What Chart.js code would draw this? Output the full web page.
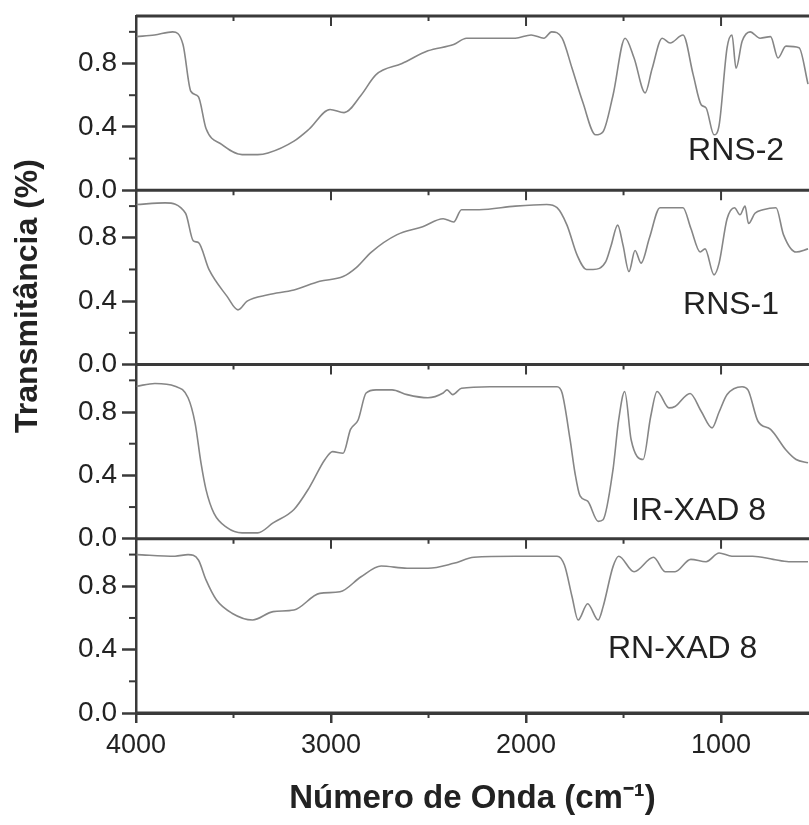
<!DOCTYPE html>
<html>
<head>
<meta charset="utf-8">
<script src="https://cdn.jsdelivr.net/npm/chart.js@4.4.1/dist/chart.umd.min.js"></script>
<style>
  html, body { margin: 0; padding: 0; background: #fff; }
  canvas { display: block; }
</style>
</head>
<body>
<canvas id="irChart" width="809" height="825"></canvas>
<script>
// Spectra: wavenumber (cm-1) and transmittance per sample
const rns2Wn = [3997, 3905, 3812, 3759, 3719, 3680, 3641, 3561, 3456, 3376, 3323, 3190, 3113, 3005, 2933, 2846, 2769, 2636, 2503, 2371,
  2305, 2055, 1974, 1908, 1869, 1815, 1764, 1710, 1643, 1605, 1554, 1492, 1446, 1389, 1354, 1302, 1261, 1195, 1143, 1102,
  1077, 1036, 1010, 969, 944, 923, 892, 851, 800, 746, 708, 667, 600, 554];
const rns2T = [0.97, 0.98, 1.0, 0.92, 0.625, 0.59, 0.39, 0.29, 0.225, 0.225, 0.235, 0.31, 0.385, 0.51, 0.49, 0.60, 0.73, 0.80, 0.88, 0.92,
  0.96, 0.96, 0.98, 0.96, 1.0, 0.96, 0.77, 0.56, 0.35, 0.37, 0.60, 0.96, 0.835, 0.615, 0.765, 0.96, 0.93, 0.98, 0.73, 0.54,
  0.52, 0.35, 0.41, 0.90, 0.98, 0.77, 0.94, 1.0, 0.96, 0.97, 0.835, 0.91, 0.90, 0.67];

const rns1Wn = [3997, 3851, 3746, 3706, 3680, 3626, 3533, 3477, 3430, 3323, 3190, 3058, 2938, 2872, 2793, 2661, 2530, 2425, 2371, 2331,
  2240, 2055, 1894, 1841, 1790, 1738, 1690, 1656, 1591, 1564, 1530, 1503, 1472, 1441, 1410, 1367, 1313, 1195, 1155, 1107,
  1082, 1036, 1010, 969, 931, 903, 877, 859, 826, 785, 718, 680, 615, 554];
const rns1T = [1.01, 1.02, 0.955, 0.78, 0.77, 0.60, 0.43, 0.345, 0.40, 0.44, 0.47, 0.525, 0.555, 0.61, 0.71, 0.82, 0.87, 0.92, 0.90, 0.977,
  0.977, 1.0, 1.01, 0.99, 0.88, 0.69, 0.60, 0.60, 0.65, 0.75, 0.88, 0.755, 0.587, 0.72, 0.64, 0.80, 0.99, 0.99, 0.86, 0.71,
  0.73, 0.566, 0.64, 0.92, 0.99, 0.945, 1.0, 0.89, 0.955, 0.977, 0.99, 0.82, 0.71, 0.73];

const irxadWn = [3997, 3903, 3800, 3733, 3697, 3667, 3641, 3600, 3533, 3456, 3376, 3297, 3190, 3113, 3031, 2992, 2938, 2900, 2861, 2820,
  2769, 2687, 2610, 2503, 2425, 2405, 2376, 2331, 2185, 1841, 1815, 1774, 1749, 1723, 1684, 1630, 1605, 1554, 1525, 1494,
  1461, 1400, 1361, 1328, 1267, 1236, 1159, 1102, 1046, 1010, 969, 892, 862, 810, 746, 667, 615, 554];
const irxadT = [0.963, 0.98, 0.963, 0.89, 0.73, 0.48, 0.31, 0.16, 0.07, 0.037, 0.037, 0.10, 0.185, 0.32, 0.50, 0.55, 0.54, 0.69, 0.75, 0.92,
  0.94, 0.94, 0.91, 0.89, 0.92, 0.94, 0.91, 0.95, 0.96, 0.96, 0.92, 0.625, 0.415, 0.27, 0.237, 0.11, 0.12, 0.437, 0.75, 0.93,
  0.625, 0.50, 0.77, 0.93, 0.826, 0.835, 0.917, 0.805, 0.70, 0.80, 0.91, 0.96, 0.94, 0.74, 0.69, 0.56, 0.50, 0.48];

const rnxadWn = [3997, 3800, 3733, 3680, 3641, 3587, 3508, 3402, 3297, 3190, 3058, 2954, 2846, 2743, 2610, 2503, 2371, 2267, 2055, 1841,
  1803, 1764, 1733, 1684, 1630, 1605, 1554, 1525, 1446, 1346, 1287, 1236, 1155, 1077, 1010, 944, 838, 733, 653, 554];
const rnxadT = [1.0, 0.99, 1.0, 0.966, 0.84, 0.713, 0.63, 0.587, 0.64, 0.65, 0.755, 0.765, 0.86, 0.928, 0.914, 0.914, 0.945, 0.983, 0.99, 0.99,
  0.934, 0.734, 0.587, 0.69, 0.587, 0.67, 0.924, 0.99, 0.892, 0.983, 0.892, 0.892, 0.97, 0.955, 1.01, 0.99, 0.99, 0.97, 0.955, 0.955];

const panelNames = ['RNS-2', 'RNS-1', 'IR-XAD 8', 'RN-XAD 8'];
const panelWn = [rns2Wn, rns1Wn, irxadWn, rnxadWn];
const panelT = [rns2T, rns1T, irxadT, rnxadT];
// where each sample name sits (wavenumber, transmittance of baseline)
const nameWn = [1169, 1195, 1462, 1580];
const nameT = [0.19, 0.316, 0.117, 0.347];

const xLabels = [4000, 3000, 2000, 1000];
const xMarks = [4000, 3500, 3000, 2500, 2000, 1500, 1000];
const yLabels = [0, 0.4, 0.8];
const yMinorMarks = [0.2, 0.6, 1.0];

const panelAxes = ['y1', 'y2', 'y3', 'y4'];
const axisColor = '#3a3a3a';
const textColor = '#222';
const family = '"Liberation Sans", Arial, sans-serif';

// panel frames, minor ticks, sample names and the y title
const framePlugin = {
  id: 'frame',
  afterDraw(chart) {
    const { ctx, chartArea, scales } = chart;
    const xs = scales.x;
    ctx.save();
    ctx.strokeStyle = axisColor;

    const rules = [scales.y1.top].concat(panelAxes.map(id => scales[id].getPixelForValue(0)));
    rules.forEach(y => {
      ctx.lineWidth = 3;
      ctx.beginPath();
      ctx.moveTo(chartArea.left, y);
      ctx.lineTo(chartArea.right, y);
      ctx.stroke();
      ctx.lineWidth = 2;
      xMarks.forEach(v => {
        const px = xs.getPixelForValue(v);
        const len = v % 1000 === 0 ? 10 : 5;
        ctx.beginPath();
        ctx.moveTo(px, y);
        ctx.lineTo(px, y + len);
        ctx.stroke();
      });
    });

    ctx.lineWidth = 2;
    panelAxes.forEach(id => {
      yMinorMarks.forEach(v => {
        const py = scales[id].getPixelForValue(v);
        ctx.beginPath();
        ctx.moveTo(chartArea.left - 7, py);
        ctx.lineTo(chartArea.left, py);
        ctx.stroke();
      });
    });

    ctx.fillStyle = textColor;
    ctx.font = '32px ' + family;
    ctx.textAlign = 'left';
    ctx.textBaseline = 'alphabetic';
    panelAxes.forEach((id, i) => {
      ctx.fillText(panelNames[i], xs.getPixelForValue(nameWn[i]), scales[id].getPixelForValue(nameT[i]));
    });

    ctx.font = 'bold 32px ' + family;
    ctx.textAlign = 'center';
    ctx.textBaseline = 'middle';
    ctx.translate(28, 296);
    ctx.rotate(-Math.PI / 2);
    ctx.fillText('Transmitância (%)', 0, 0);
    ctx.restore();
  }
};

const scales = {
  x: {
    type: 'linear',
    position: 'bottom',
    reverse: true,
    min: 549,
    max: 4000,
    border: { color: axisColor, width: 3 },
    grid: { drawOnChartArea: false, tickLength: 10, tickWidth: 2, tickColor: axisColor },
    ticks: {
      autoSkip: false, maxRotation: 0, padding: 6,
      color: textColor, font: { size: 27, family: family }, callback: v => String(v)
    },
    afterBuildTicks: s => { s.ticks = xLabels.map(v => ({ value: v })); },
    title: {
      display: true, text: 'Número de Onda (cm⁻¹)', color: textColor,
      font: { size: 33, weight: 'bold', family: family }, padding: { top: 0, bottom: 6 }
    },
    afterFit: s => { s.height = 112; s.paddingLeft = 0; s.paddingRight = 0; }
  }
};

panelAxes.forEach((id, i) => {
  scales[id] = {
    type: 'linear',
    position: 'left',
    stack: 'panels',
    stackWeight: 1,
    weight: panelAxes.length - i,
    min: 0,
    max: 1.1,
    border: { color: axisColor, width: 2.5 },
    grid: { drawOnChartArea: false, tickLength: 14, tickWidth: 2.5, tickColor: axisColor },
    ticks: {
      padding: 5, color: textColor, font: { size: 28, family: family }, callback: v => v.toFixed(1)
    },
    afterBuildTicks: s => { s.ticks = yLabels.map(v => ({ value: v })); },
    afterFit: s => { s.width = 136; s.paddingTop = 0; s.paddingBottom = 0; }
  };
});

new Chart(document.getElementById('irChart'), {
  type: 'line',
  data: {
    datasets: panelAxes.map((id, i) => ({
      label: panelNames[i],
      yAxisID: id,
      data: panelWn[i].map((w, j) => ({ x: w, y: panelT[i][j] })),
      borderColor: '#868686',
      borderWidth: 1.6,
      pointRadius: 0,
      fill: false,
      cubicInterpolationMode: 'monotone'
    }))
  },
  options: {
    responsive: false,
    animation: false,
    layout: { padding: { top: 16, left: 0, right: 0, bottom: 0 } },
    plugins: { legend: { display: false }, tooltip: { enabled: false } },
    scales: scales
  },
  plugins: [framePlugin]
});
</script>
</body>
</html>
